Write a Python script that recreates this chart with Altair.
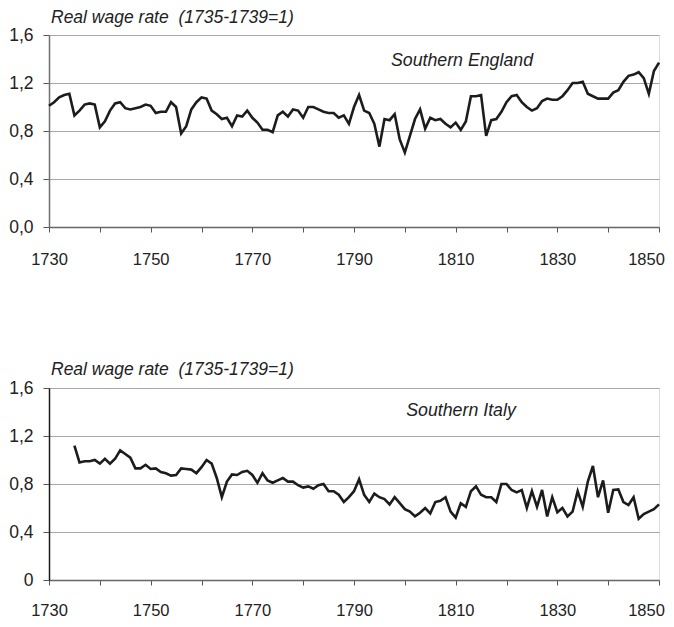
import altair as alt
import pandas as pd

# ---- data ----
england_years = list(range(1730, 1851))
england_wage = [
    1.01, 1.04, 1.08, 1.10, 1.11, 0.93, 0.97, 1.02, 1.03, 1.02,   # 1730-1739
    0.83, 0.88, 0.97, 1.03, 1.04, 0.99, 0.98, 0.99, 1.00, 1.02,   # 1740-1749
    1.01, 0.95, 0.96, 0.96, 1.04, 1.00, 0.78, 0.84, 0.98, 1.04,   # 1750-1759
    1.08, 1.07, 0.97, 0.94, 0.90, 0.91, 0.84, 0.93, 0.92, 0.97,   # 1760-1769
    0.91, 0.87, 0.81, 0.81, 0.79, 0.93, 0.96, 0.92, 0.98, 0.97,   # 1770-1779
    0.91, 1.00, 1.00, 0.98, 0.96, 0.95, 0.95, 0.91, 0.93, 0.86,   # 1780-1789
    1.00, 1.10, 0.97, 0.95, 0.86, 0.67, 0.90, 0.89, 0.94, 0.73,   # 1790-1799
    0.62, 0.76, 0.90, 0.98, 0.82, 0.91, 0.89, 0.90, 0.86, 0.83,   # 1800-1809
    0.87, 0.81, 0.88, 1.09, 1.09, 1.10, 0.76, 0.89, 0.90, 0.96,   # 1810-1819
    1.04, 1.09, 1.10, 1.04, 1.00, 0.97, 0.99, 1.05, 1.07, 1.06,   # 1820-1829
    1.06, 1.09, 1.14, 1.20, 1.20, 1.21, 1.11, 1.09, 1.07, 1.07,   # 1830-1839
    1.07, 1.12, 1.14, 1.21, 1.26, 1.27, 1.29, 1.24, 1.11, 1.30,   # 1840-1849
    1.37,                                                         # 1850
]

italy_years = list(range(1735, 1851))
italy_wage = [
    1.12, 0.98, 0.99, 0.99, 1.00,                                  # 1735-1739
    0.97, 1.01, 0.97, 1.01, 1.08, 1.05, 1.02, 0.93, 0.93, 0.96,    # 1740-1749
    0.925, 0.93, 0.90, 0.89, 0.87, 0.875, 0.93, 0.925, 0.92, 0.89, # 1750-1759
    0.94, 1.00, 0.97, 0.85, 0.69, 0.82, 0.88, 0.875, 0.90, 0.91,   # 1760-1769
    0.875, 0.81, 0.89, 0.83, 0.81, 0.83, 0.85, 0.82, 0.82, 0.79,   # 1770-1779
    0.77, 0.78, 0.76, 0.79, 0.80, 0.74, 0.74, 0.71, 0.65, 0.69,    # 1780-1789
    0.74, 0.84, 0.71, 0.65, 0.72, 0.69, 0.675, 0.63, 0.69, 0.64,   # 1790-1799
    0.59, 0.57, 0.53, 0.56, 0.60, 0.555, 0.65, 0.66, 0.69, 0.57,   # 1800-1809
    0.52, 0.64, 0.61, 0.74, 0.78, 0.71, 0.69, 0.69, 0.65, 0.80,    # 1810-1819
    0.80, 0.75, 0.73, 0.75, 0.60, 0.74, 0.61, 0.75, 0.53, 0.69,    # 1820-1829
    0.565, 0.60, 0.53, 0.57, 0.74, 0.61, 0.82, 0.95, 0.69, 0.83,   # 1830-1839
    0.56, 0.75, 0.755, 0.65, 0.625, 0.69, 0.51, 0.55, 0.57, 0.59,  # 1840-1849
    0.63,                                                          # 1850
]

x_ticks = list(range(1730, 1851, 10))
y_ticks = [0, 0.4, 0.8, 1.2, 1.6]
y_title = "Real wage rate\u00a0 (1735-1739=1)"

LINE = "#1c1c1c"
TEXT = "#222222"
SANS = "Liberation Sans, Arial, sans-serif"


def panel(years, values, label, zero_label, y_domain_color, x_pad, height,
          title_offset, note_x, note_y):
    df = pd.DataFrame({"year": years, "wage": values})
    y_expr = ("datum.value == 0 ? '%s' : replace(format(datum.value, '.1f'), '.', ',')" % zero_label)
    x_axis = alt.Axis(
        values=x_ticks, format="d",
        labelExpr="(datum.value - 1730) % 20 == 0 ? datum.label : ''",
        labelFont=SANS, labelFontSize=16.5, labelColor=TEXT,
        labelPadding=x_pad, labelFlush=False, labelOverlap=False,
        labelOffset={"condition": {"test": "datum.value == 1850", "value": -13}, "value": 0},
        tickSize=5, tickColor="#555555", domainColor="#666666", domainWidth=1.5,
        grid=False, title=None,
    )
    y_axis = alt.Axis(
        values=y_ticks, labelExpr=y_expr,
        labelFont=SANS, labelFontSize=17.5, labelColor=TEXT, labelPadding=10,
        tickSize=6, tickColor="#555555", domainColor=y_domain_color, domainWidth=1.5,
        grid=True, gridColor="#a6a6a6", gridWidth=1.2, title=None,
    )
    line = alt.Chart(df).mark_line(color=LINE, strokeWidth=2.6, strokeJoin="miter").encode(
        x=alt.X("year:Q", scale=alt.Scale(domain=[1730, 1850], nice=False, zero=False), axis=x_axis),
        y=alt.Y("wage:Q", scale=alt.Scale(domain=[0, 1.6], nice=False), axis=y_axis),
    )
    note = alt.Chart(pd.DataFrame({"t": [label]})).mark_text(
        font=SANS, fontSize=17.75, fontStyle="italic", color=TEXT, align="center", baseline="middle"
    ).encode(
        text="t:N",
        x=alt.value(note_x),
        y=alt.value(note_y),
    )
    return alt.layer(line, note).properties(
        width=610, height=height,
        title=alt.TitleParams(
            text=y_title, anchor="start", frame="group", font=SANS, fontSize=17.5,
            fontStyle="italic", fontWeight="normal", color=TEXT, offset=title_offset, dx=2,
        ),
    )


top = panel(england_years, england_wage, "Southern England", "0,0", "#6e6e6e",
            19, 192, 0, 413, 26)
bottom = panel(italy_years, italy_wage, "Southern Italy", "0", "#1a1a1a",
               17, 192, 1, 412, 23)

chart = alt.vconcat(top, bottom, spacing=92).properties(padding=0).configure_view(
    stroke=None
).configure(background="white")

chart.save("out.html", embed_options={"renderer": "svg", "actions": False})
